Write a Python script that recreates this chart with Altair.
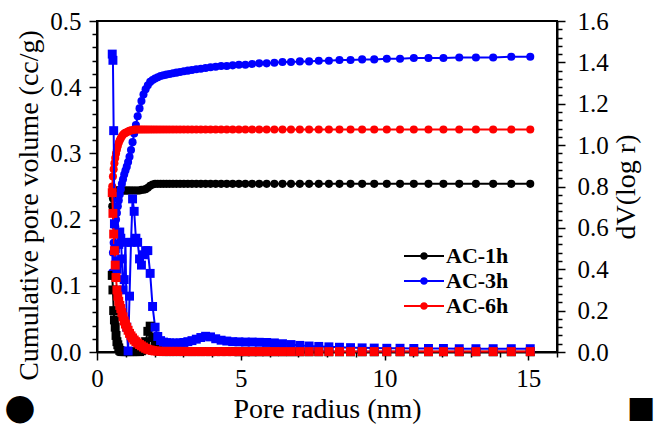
import altair as alt
import pandas as pd

# Pore radius (nm)
radius = [0.530, 0.554, 0.580, 0.606, 0.634, 0.662, 0.693, 0.724, 0.757, 0.792,
          0.828, 0.866, 0.905, 0.946, 0.990, 1.035, 1.082, 1.131, 1.183, 1.237,
          1.293, 1.353, 1.414, 1.479, 1.546, 1.617, 1.691, 1.768, 1.849, 1.933,
          2.021, 2.114, 2.211, 2.312, 2.417, 2.527, 2.643, 2.763, 2.890, 3.022,
          3.160, 3.303, 3.454, 3.612, 3.777, 3.949, 4.129, 4.317, 4.514, 4.720,
          4.936, 5.161, 5.397, 5.643, 5.901, 6.170, 6.452, 6.747, 7.055, 7.377,
          7.714, 8.066, 8.434, 8.819, 9.222, 9.643, 10.08, 10.54, 11.02, 11.53,
          12.05, 12.60, 13.18, 13.78, 14.41, 15.07]

# Cumulative pore volume (cc/g)
cum_1h = [0.220, 0.232, 0.238, 0.242, 0.244, 0.244, 0.244, 0.244, 0.244, 0.244,
          0.244, 0.244, 0.244, 0.244, 0.244, 0.244, 0.244, 0.244, 0.244, 0.244,
          0.244, 0.244, 0.244, 0.244, 0.245, 0.245, 0.246, 0.248, 0.251, 0.253,
          0.254, 0.254, 0.254, 0.254, 0.254, 0.254, 0.254, 0.254, 0.254, 0.254,
          0.254, 0.254, 0.254, 0.254, 0.254, 0.254, 0.254, 0.254, 0.254, 0.254,
          0.254, 0.254, 0.254, 0.254, 0.254, 0.254, 0.254, 0.254, 0.254, 0.254,
          0.254, 0.254, 0.254, 0.254, 0.254, 0.254, 0.254, 0.254, 0.254, 0.254,
          0.254, 0.254, 0.254, 0.254, 0.254, 0.254]
cum_3h = [0.120, 0.150, 0.165, 0.178, 0.190, 0.200, 0.210, 0.220, 0.229, 0.238,
          0.246, 0.254, 0.261, 0.268, 0.274, 0.280, 0.287, 0.295, 0.305, 0.317,
          0.330, 0.343, 0.356, 0.368, 0.379, 0.389, 0.397, 0.403, 0.408, 0.411,
          0.413, 0.415, 0.417, 0.418, 0.419, 0.420, 0.421, 0.422, 0.423, 0.424,
          0.425, 0.426, 0.427, 0.428, 0.429, 0.430, 0.431, 0.432, 0.432, 0.433,
          0.434, 0.434, 0.435, 0.436, 0.436, 0.437, 0.438, 0.438, 0.439, 0.439,
          0.440, 0.440, 0.441, 0.441, 0.442, 0.442, 0.443, 0.443, 0.444, 0.444,
          0.444, 0.445, 0.445, 0.445, 0.446, 0.446]
cum_6h = [0.250, 0.265, 0.276, 0.285, 0.293, 0.300, 0.306, 0.311, 0.316, 0.320,
          0.323, 0.326, 0.328, 0.330, 0.331, 0.332, 0.333, 0.334, 0.335, 0.335,
          0.336, 0.336, 0.336, 0.336, 0.336, 0.336, 0.336, 0.336, 0.336, 0.336,
          0.336, 0.336, 0.336, 0.336, 0.336, 0.336, 0.336, 0.336, 0.336, 0.336,
          0.336, 0.336, 0.336, 0.336, 0.336, 0.336, 0.336, 0.336, 0.336, 0.336,
          0.336, 0.336, 0.336, 0.336, 0.336, 0.336, 0.336, 0.336, 0.336, 0.336,
          0.336, 0.336, 0.336, 0.336, 0.336, 0.336, 0.336, 0.336, 0.336, 0.336,
          0.336, 0.336, 0.336, 0.336, 0.336, 0.336]

# dV(log r)
dv_1h = [0.370, 0.300, 0.200, 0.155, 0.120, 0.080, 0.050, 0.035, 0.020, 0.008,
         0.004, 0.002, 0.002, 0.002, 0.002, 0.002, 0.002, 0.002, 0.002, 0.002,
         0.002, 0.002, 0.002, 0.002, 0.006, 0.020, 0.050, 0.100, 0.125, 0.070,
         0.030, 0.010, 0.004, 0.002, 0.002, 0.002, 0.002, 0.002, 0.002, 0.002,
         0.002, 0.002, 0.002, 0.002, 0.002, 0.002, 0.002, 0.002, 0.002, 0.002,
         0.001, 0.001, 0.001, 0.001, 0.001, 0.001, 0.001, 0.001, 0.001, 0.001,
         0.001, 0.001, 0.001, 0.001, 0.001, 0.001, 0.001, 0.001, 0.001, 0.001,
         0.001, 0.001, 0.001, 0.001, 0.001, 0.001]
dv_3h = [1.440, 1.410, 1.070, 0.620, 0.500, 0.440, 0.400, 0.430, 0.520, 0.580,
         0.550, 0.450, 0.300, 0.350, 0.530, 0.120, 0.005, 0.270, 0.530, 0.740,
         0.680, 0.550, 0.530, 0.450, 0.420, 0.470, 0.490, 0.490, 0.380, 0.220,
         0.120, 0.075, 0.055, 0.048, 0.045, 0.044, 0.043, 0.043, 0.044, 0.046,
         0.050, 0.055, 0.062, 0.070, 0.076, 0.073, 0.064, 0.057, 0.053, 0.050,
         0.049, 0.048, 0.048, 0.047, 0.046, 0.044, 0.040, 0.036, 0.032, 0.029,
         0.027, 0.025, 0.023, 0.021, 0.020, 0.019, 0.018, 0.018, 0.017, 0.017,
         0.017, 0.016, 0.016, 0.016, 0.016, 0.016]
dv_6h = [0.770, 0.670, 0.570, 0.490, 0.420, 0.360, 0.300, 0.270, 0.245, 0.225,
         0.210, 0.190, 0.170, 0.150, 0.135, 0.120, 0.105, 0.090, 0.078, 0.068,
         0.058, 0.050, 0.043, 0.036, 0.030, 0.024, 0.018, 0.013, 0.010, 0.007,
         0.005, 0.004, 0.003, 0.003, 0.003, 0.003, 0.003, 0.003, 0.003, 0.003,
         0.002, 0.002, 0.002, 0.002, 0.002, 0.002, 0.002, 0.002, 0.002, 0.002,
         0.002, 0.002, 0.002, 0.002, 0.002, 0.002, 0.002, 0.002, 0.002, 0.002,
         0.002, 0.002, 0.002, 0.002, 0.002, 0.002, 0.002, 0.002, 0.002, 0.002,
         0.002, 0.002, 0.002, 0.002, 0.002, 0.002]

series = ["AC-1h", "AC-3h", "AC-6h"]
colors = ["#000000", "#0000FF", "#FF0000"]

rows = []
for s, cum, dv in zip(series, [cum_1h, cum_3h, cum_6h], [dv_1h, dv_3h, dv_6h]):
    for r, c, d in zip(radius, cum, dv):
        rows.append({"series": s, "r": r, "cum": c, "dv": d})
df = pd.DataFrame(rows)

FONT = "'Liberation Serif', 'Times New Roman', Times, serif"
W, H = 460, 331

x_ticks = list(range(0, 17))
yl_ticks = [round(i * 0.02, 2) for i in range(26)]
yr_ticks = [round(i * 0.04, 2) for i in range(41)]

def axis_common(**kw):
    base = dict(grid=False, domainColor="black", domainWidth=2, tickColor="black",
                tickWidth=1.5, labelFont=FONT, labelFontSize=25, labelColor="black",
                titleFont=FONT, titleFontSize=28, titleFontWeight="normal",
                titleColor="black", labelOverlap=False, labelFlush=False)
    base.update(kw)
    return alt.Axis(**base)

major_x = "abs(datum.value/5 - round(datum.value/5)) < 1e-6"
major_l = "abs(datum.value*10 - round(datum.value*10)) < 1e-6"
major_r = "abs(datum.value*5 - round(datum.value*5)) < 1e-6"

x_enc = alt.X("r:Q", scale=alt.Scale(domain=[0, 16], nice=False),
              axis=axis_common(title="Pore radius (nm)", values=x_ticks,
                               labelExpr=f"{major_x} ? format(datum.value, 'd') : ''",
                               tickSize={"condition": {"test": major_x, "value": 8}, "value": 5},
                               labelPadding=6, titlePadding=4))

yl_enc = alt.Y("cum:Q", scale=alt.Scale(domain=[0, 0.5], nice=False),
               axis=axis_common(title="Cumulative pore volume (cc/g)", orient="left",
                                values=yl_ticks,
                                labelExpr=f"{major_l} ? format(datum.value, '.1f') : ''",
                                tickSize={"condition": {"test": major_l, "value": 8}, "value": 5},
                                labelPadding=8, titlePadding=6, titleY=184))

yr_enc = alt.Y("dv:Q", scale=alt.Scale(domain=[0, 1.6], nice=False),
               axis=axis_common(title="dV(log r)", orient="right", values=yr_ticks,
                                labelExpr=f"{major_r} ? format(datum.value, '.1f') : ''",
                                tickSize={"condition": {"test": major_r, "value": 8}, "value": 5},
                                labelPadding=12, titlePadding=4, titleAngle=270,
                                titleBaseline="top"))

# legend glyph: a 40 px line with a dot in its middle (unit = 10 px at size 400)
legend_symbol = ("M-1,-0.1H3V0.1H-1Z"
                 "M0.62,0A0.38,0.38,0,1,1,1.38,0A0.38,0.38,0,1,1,0.62,0Z")

legend = alt.Legend(title=None, orient="none", legendX=306, legendY=224,
                    symbolType=legend_symbol, symbolSize=400,
                    symbolStrokeWidth=0, labelFont=FONT,
                    labelFontSize=22, labelFontWeight="bold",
                    labelColor="black", rowPadding=3, padding=0,
                    labelOffset=21)
color_enc = alt.Color("series:N", scale=alt.Scale(domain=series, range=colors), legend=legend)
stroke_enc = alt.Stroke("series:N", scale=alt.Scale(domain=series, range=colors), legend=legend)

base = alt.Chart(df)

cum_line = base.mark_line(strokeWidth=2).encode(x=x_enc, y=yl_enc, stroke=stroke_enc)
cum_pts = base.mark_point(shape="circle", filled=True, size=65, opacity=1).encode(
    x=x_enc, y=yl_enc, color=color_enc)

dv_line = base.mark_line(strokeWidth=2).encode(x=x_enc, y=yr_enc, stroke=stroke_enc)
dv_pts = base.mark_point(shape="square", filled=True, size=80, opacity=1).encode(
    x=x_enc, y=yr_enc, color=color_enc)

sym_left = alt.Chart(pd.DataFrame({"t": ["●"]})).mark_text(
    font="DejaVu Sans", fontSize=36, color="black", align="center", baseline="middle"
).encode(text="t:N", x=alt.value(-77), y=alt.value(387))
sym_right = alt.Chart(pd.DataFrame({"t": ["■"]})).mark_text(
    font="DejaVu Sans", fontSize=30, color="black", align="center", baseline="middle"
).encode(text="t:N", x=alt.value(544), y=alt.value(387))

chart = alt.layer(
    alt.layer(cum_line, cum_pts),
    alt.layer(dv_line, dv_pts),
    sym_left, sym_right,
).resolve_scale(y="independent").properties(
    width=W, height=H,
    autosize=alt.AutoSizeParams(type="none"),
    padding={"left": 97, "top": 21, "right": 97, "bottom": 79},
).configure_view(stroke="black", strokeWidth=2)

chart.save("out.html", embed_options={"renderer": "svg", "actions": False})
